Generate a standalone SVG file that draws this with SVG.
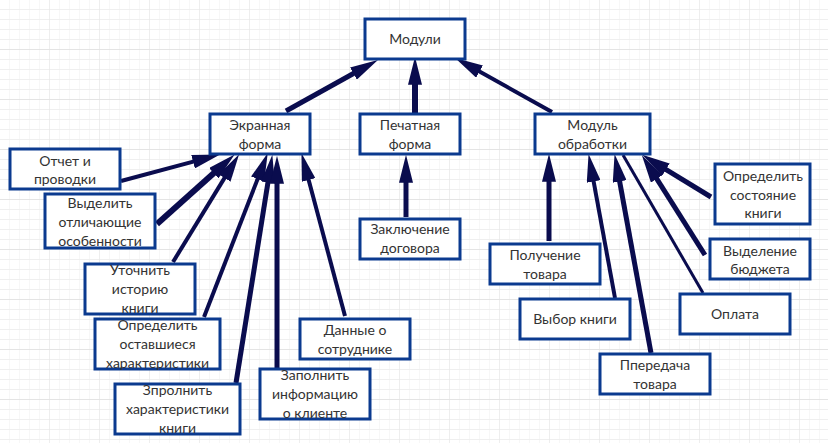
<svg xmlns="http://www.w3.org/2000/svg" width="828" height="443" viewBox="0 0 828 443">
<defs>
<pattern id="minor" width="10" height="10" patternUnits="userSpaceOnUse">
<path d="M10,0 V10 M0,9.5 H10" fill="none" stroke="#efefef" stroke-width="1"/>
</pattern>
<pattern id="major" width="50" height="50" patternUnits="userSpaceOnUse">
<path d="M50,0 V50 M0,49.5 H50" fill="none" stroke="#e4e4e4" stroke-width="1"/>
</pattern>
<marker id="arr" markerUnits="userSpaceOnUse" markerWidth="28" markerHeight="14" viewBox="0 0 26 13" refX="11" refY="6.5" orient="auto">
<path d="M0,0 L26,6.5 L0,13 z" fill="#0a0c4e"/>
</marker>
</defs>
<style>
.box{fill:#ffffff;stroke:#0b3a8f;stroke-width:3}
.lbl{font-family:Lato,"Liberation Sans",sans-serif;font-size:14px;fill:#333333;text-anchor:middle}
.c{fill:none;stroke:#0a0c4e;stroke-width:5;marker-end:url(#arr)}
.t{stroke-width:4}
</style>
<rect width="828" height="443" fill="#ffffff"/>
<rect width="828" height="443" fill="url(#minor)"/>
<rect width="828" height="443" fill="url(#major)"/>

<g id="connectors">
<path class="c" d="M286,111 L363.8,67.8"/>
<path class="c" d="M415,113 L415,73" style="stroke-width:6"/>
<path class="c t" d="M552,112 L469.2,65.8"/>

<path class="c t" d="M121,181 L204.5,158.6"/>
<path class="c" d="M157,224 L222.6,165.3" style="stroke-width:6"/>
<path class="c t" d="M173,262 L230.7,167.9"/>
<path class="c t" d="M204,317 L261.9,168"/>
<path class="c" d="M236,383 L269.8,170.8"/>
<path class="c" d="M277,369 L277,172"/>
<path class="c t" d="M345,316 L305.6,168.5"/>

<path class="c" d="M406,217 L406,171"/>

<path class="c" d="M549,241 L549,170"/>
<path class="c t" d="M615,298 L591.5,169.8"/>
<path class="c" d="M651,353 L617.5,169.8"/>
<path d="M703,293 L623,155" fill="none" stroke="#0a0c4e" stroke-width="3"/>
<path class="c" d="M705,255 L650.5,168.8"/>
<path class="c" d="M711,197 L655.9,163.3"/>
</g>

<g id="n-moduli"><rect class="box" x="365" y="19" width="100" height="40"/><text class="lbl" x="415" y="44">Модули</text></g>
<g id="n-ekran"><rect class="box" x="210" y="114" width="100" height="40"/><text class="lbl" x="260" y="130">Экранная</text><text class="lbl" x="260" y="149">форма</text></g>
<g id="n-pechat"><rect class="box" x="360" y="114" width="100" height="40"/><text class="lbl" x="410" y="130">Печатная</text><text class="lbl" x="410" y="149">форма</text></g>
<g id="n-modobr"><rect class="box" x="535" y="114" width="115" height="40"/><text class="lbl" x="592.5" y="130">Модуль</text><text class="lbl" x="592.5" y="149">обработки</text></g>

<g id="n-otchet"><rect class="box" x="10" y="149" width="110" height="40"/><text class="lbl" x="65" y="166">Отчет и</text><text class="lbl" x="65" y="184">проводки</text></g>
<g id="n-vydelit"><rect class="box" x="45" y="194" width="110" height="54"/><text class="lbl" x="100" y="208">Выделить</text><text class="lbl" x="100" y="227">отличающие</text><text class="lbl" x="100" y="246">особенности</text></g>
<g id="n-utochnit"><rect class="box" x="85" y="264" width="110" height="50"/><text class="lbl" x="140" y="275">Уточнить</text><text class="lbl" x="140" y="294">историю</text><text class="lbl" x="140" y="313">книги</text></g>
<g id="n-opredelit"><rect class="box" x="95" y="319" width="125" height="50"/><text class="lbl" x="157.5" y="330">Определить</text><text class="lbl" x="157.5" y="349">оставшиеся</text><text class="lbl" x="157.5" y="368">характеристики</text></g>
<g id="n-zpolnit"><rect class="box" x="115" y="384" width="125" height="50"/><text class="lbl" x="177.5" y="395">Зпролнить</text><text class="lbl" x="177.5" y="414">характеристики</text><text class="lbl" x="177.5" y="433">книги</text></g>
<g id="n-zapolnit"><rect class="box" x="260" y="369" width="110" height="50"/><text class="lbl" x="315" y="380">Заполнить</text><text class="lbl" x="315" y="399">информацию</text><text class="lbl" x="315" y="418">о клиенте</text></g>
<g id="n-dannye"><rect class="box" x="300" y="319" width="110" height="40"/><text class="lbl" x="355" y="335">Данные о</text><text class="lbl" x="355" y="354">сотруднике</text></g>

<g id="n-zakl"><rect class="box" x="360" y="219" width="100" height="40"/><text class="lbl" x="410" y="234">Заключение</text><text class="lbl" x="410" y="253">договора</text></g>

<g id="n-poluch"><rect class="box" x="490" y="244" width="110" height="40"/><text class="lbl" x="545" y="260">Получение</text><text class="lbl" x="545" y="279">товара</text></g>
<g id="n-vybor"><rect class="box" x="520" y="299" width="110" height="40"/><text class="lbl" x="575" y="324">Выбор книги</text></g>
<g id="n-peredacha"><rect class="box" x="600" y="354" width="110" height="40"/><text class="lbl" x="655" y="370">Ппередача</text><text class="lbl" x="655" y="389">товара</text></g>
<g id="n-oplata"><rect class="box" x="680" y="294" width="110" height="40"/><text class="lbl" x="735" y="319">Оплата</text></g>
<g id="n-sostoyanie"><rect class="box" x="715" y="164" width="95" height="60"/><text class="lbl" x="763" y="181">Определить</text><text class="lbl" x="763" y="200">состояние</text><text class="lbl" x="763" y="218">книги</text></g>
<g id="n-budget"><rect class="box" x="710" y="239" width="100" height="40"/><text class="lbl" x="760" y="256">Выделение</text><text class="lbl" x="760" y="274">бюджета</text></g>
</svg>
